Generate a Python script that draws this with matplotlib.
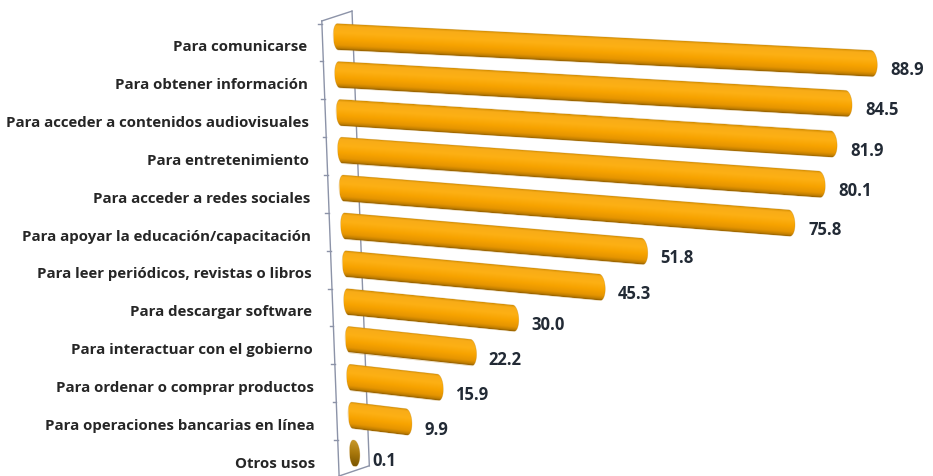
import numpy as np
import matplotlib.pyplot as plt
import matplotlib.transforms as mtransforms
from matplotlib.patches import PathPatch
from matplotlib.path import Path
from matplotlib.colors import LinearSegmentedColormap

categorias = [
    "Para comunicarse",
    "Para obtener información",
    "Para acceder a contenidos audiovisuales",
    "Para entretenimiento",
    "Para acceder a redes sociales",
    "Para apoyar la educación/capacitación",
    "Para leer periódicos, revistas o libros",
    "Para descargar software",
    "Para interactuar con el gobierno",
    "Para ordenar o comprar productos",
    "Para operaciones bancarias en línea",
    "Otros usos",
]
porcentajes = [88.9, 84.5, 81.9, 80.1, 75.8, 51.8, 45.3, 30.0, 22.2, 15.9, 9.9, 0.1]

naranja = LinearSegmentedColormap.from_list("cilindro", [
    (0.0, "#d28c00"), (0.1, "#f8ac18"), (0.35, "#fdb014"), (0.6, "#f7a300"),
    (0.82, "#e69500"), (0.93, "#c27f00"), (1.0, "#8f5c00")])
tapa = LinearSegmentedColormap.from_list("tapa", ["#c99a2c", "#a9780c", "#7a5500"])

PX = 6.0                 # pixeles por unidad en la fila superior
FILA_PX = 477 / 12.6
SKEW_X = 0.24
ALTO = 0.7
R_IZQ, R_DER = 0.8, 1.0

fig = plt.figure(figsize=(9.33, 4.77), dpi=100)
ax = fig.add_axes([300 / 933, 0, 633 / 933, 1])
ax.axis("off")

pared = mtransforms.Affine2D(np.array([[1, SKEW_X, 0], [0, 1, 0], [0, 0, 1]])) + ax.transData


def trans_fila(i):
    # perspectiva aproximada: cada fila con su escala e inclinacion
    k = 1 - 0.09 / (1 + np.exp(-(i - 5) * 1.2))
    pend = (0.05 + 0.007 * i) * k * PX / FILA_PX
    m = np.array([[k, SKEW_X, 0], [pend, 1, 0], [0, 0, 1]])
    return mtransforms.Affine2D(m) + ax.transData


def capsula(largo, fila):
    t = np.linspace(-np.pi / 2, np.pi / 2, 40)
    der = np.column_stack([largo + R_DER * np.cos(t), fila + ALTO / 2 * np.sin(t)])
    izq = np.column_stack([-R_IZQ * np.cos(t), fila - ALTO / 2 * np.sin(t)])
    pts = np.vstack([der, izq, der[:1]])
    codes = [Path.MOVETO] + [Path.LINETO] * (len(pts) - 2) + [Path.CLOSEPOLY]
    return Path(pts, codes)


# marco de la pared lateral
front_x, back_x = -2.6, 2.5
gris = "#8c93a8"
ax.plot([front_x, front_x], [-0.42, 11.6], color=gris, lw=1, transform=pared, zorder=1)
ax.plot([back_x, back_x], [-0.68, 11.33], color=gris, lw=1, transform=pared, zorder=1)
ax.plot([front_x, back_x], [-0.42, -0.68], color=gris, lw=1, transform=pared, zorder=1)
ax.plot([front_x, back_x], [11.6, 11.33], color=gris, lw=1, transform=pared, zorder=1)
for j in range(-1, 12):
    ax.plot([front_x - 0.6, front_x], [j + 0.65, j + 0.65], color=gris, lw=1,
            transform=pared, zorder=1)

grad = np.linspace(0, 1, 256).reshape(-1, 1)
for i, (cat, v) in enumerate(zip(categorias, porcentajes)):
    tr = trans_fila(i)
    forma = PathPatch(capsula(v, i), facecolor="none", edgecolor="#b07400",
                      lw=0.5, alpha=0.3, transform=tr, zorder=3)
    ax.add_patch(forma)
    im = ax.imshow(grad, cmap=tapa if v < 1 else naranja, aspect="auto", origin="upper",
                   extent=(-R_IZQ, v + R_DER, i + ALTO / 2, i - ALTO / 2),
                   interpolation="bilinear", transform=tr, zorder=2)
    im.set_clip_path(forma)

    ax.text(-5.17 + 0.13 * i, i + 0.25, cat, ha="right", va="center",
            fontsize=10.8, fontweight="bold", family="Open Sans", color="#262626")
    ax.text(v + R_DER + 2.2, i + 0.12, f"{v:.1f}", ha="left", va="center",
            fontsize=12, fontweight="bold", family="Open Sans", color="#222a35",
            transform=tr, clip_on=False)

ax.set_xlim(-38 / PX, -38 / PX + 633 / PX)
ax.set_ylim(11.6, -1.0)

fig.savefig("out.png", dpi=100)
